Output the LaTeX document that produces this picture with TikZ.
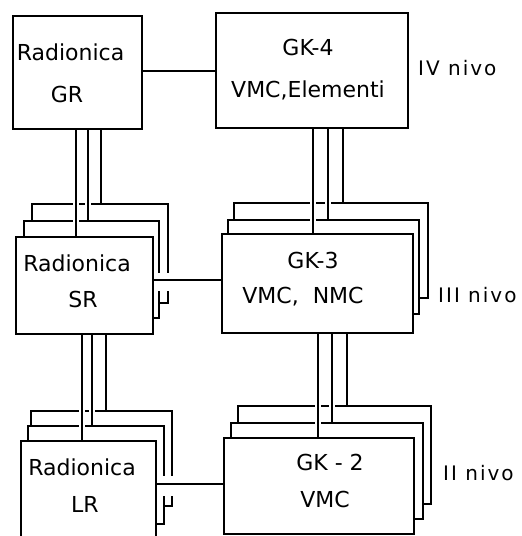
\documentclass[tikz,border=0pt]{standalone}
\usepackage{fontspec}
\setmainfont{DejaVu Sans}
\begin{document}
\begin{tikzpicture}[x=1pt,y=-1pt,
  box/.style={draw,line width=1.6pt,fill=white,rectangle,inner sep=0pt,anchor=north west},
  ln/.style={line width=1.6pt},
  thru/.style={line width=1.6pt,preaction={draw=white,line width=6pt,shorten <=1.8pt,shorten >=1.8pt}},
  txt/.style={font=\fontsize{22}{26}\selectfont,inner sep=0pt,anchor=base},
  lvl/.style={font=\fontsize{20}{24}\selectfont\addfontfeature{LetterSpace=10},inner sep=0pt,anchor=base west}]
\useasboundingbox (0,0) rectangle (522,536);
\clip (0,0) rectangle (522,536);
% level IV
\node[box,minimum width=129pt,minimum height=113pt] (GR) at (12,15) {};
\node[box,minimum width=192pt,minimum height=115pt] (GK4) at (215,12) {};
% level III
\node[box,minimum width=136pt,minimum height=99pt] (SRb2) at (31,203) {};
\node[box,minimum width=135pt,minimum height=97pt] (SRb1) at (23,220) {};
\node[box,minimum width=137pt,minimum height=97pt] (SRf) at (15,236) {};
\node[box,minimum width=194pt,minimum height=95pt] (GK3b2) at (233,202) {};
\node[box,minimum width=191pt,minimum height=94pt] (GK3b1) at (227,219) {};
\node[box,minimum width=191pt,minimum height=99pt] (GK3f) at (221,233) {};
% level II
\node[box,minimum width=141pt,minimum height=95pt] (LRb2) at (30,410) {};
\node[box,minimum width=136pt,minimum height=98pt] (LRb1) at (27,425) {};
\node[box,minimum width=135pt,minimum height=110pt] (LRf) at (20,440) {};
\node[box,minimum width=193pt,minimum height=98pt] (GK2b2) at (237,405) {};
\node[box,minimum width=192pt,minimum height=96pt] (GK2b1) at (230,422) {};
\node[box,minimum width=190pt,minimum height=96pt] (GK2f) at (223,437) {};
% texts
\node[txt] (t1) at (70.5,60) {Radionica};
\node[txt] (t2) at (67,102) {GR};
\node[txt] (t3) at (308,55) {GK-4};
\node[txt] (t4) at (308,97) {VMC,Elementi};
\node[txt] (t5) at (77,271) {Radionica};
\node[txt] (t6) at (83,307) {SR};
\node[txt] (t7) at (313,268) {GK-3};
\node[txt] (t8) at (303,303) {VMC,\ \ NMC};
\node[txt] (t9) at (82,475) {Radionica};
\node[txt] (t10) at (85,512) {LR};
\node[txt] (t11) at (330,470) {GK - 2};
\node[txt] (t12) at (325,507) {VMC};
\node[lvl] (l4) at (418,75) {IV nivo};
\node[lvl] (l3) at (438,302) {III nivo};
\node[lvl] (l2) at (443,480) {II nivo};
% horizontal connectors
\coordinate (c1) at ([yshift=1.5pt]GR.east);
\draw[ln] (c1) -- (c1 -| GK4.west);
\coordinate (c2) at ([yshift=5.5pt]SRf.east);
\fill[white] ([shift={(1.8,-7)}]c2) rectangle ([shift={(17,11)}]c2);
\draw[ln] (c2) -- (c2 -| GK3f.west);
\coordinate (c3) at ([yshift=12pt]LRf.east);
\fill[white] ([shift={(1.8,-8)}]c3) rectangle ([shift={(18,12)}]c3);
\draw[ln] (c3) -- (c3 -| GK2f.west);
% vertical bundles GR -> SR
\coordinate (a1) at ([xshift=64pt]GR.south west);
\coordinate (a2) at ([xshift=76pt]GR.south west);
\coordinate (a3) at ([xshift=89pt]GR.south west);
\draw[thru] (a1) -- (a1 |- SRf.north);
\draw[thru] (a2) -- (a2 |- SRb1.north);
\draw[thru] (a3) -- (a3 |- SRb2.north);
% SR -> LR
\coordinate (b1) at ([xshift=67pt]SRf.south west);
\coordinate (b2) at ([xshift=77pt]SRf.south west);
\coordinate (b3) at ([xshift=91pt]SRf.south west);
\draw[thru] (b1) -- (b1 |- LRf.north);
\draw[thru] (b2) -- (b2 |- LRb1.north);
\draw[thru] (b3) -- (b3 |- LRb2.north);
% GK4 -> GK3
\coordinate (d1) at ([xshift=98pt]GK4.south west);
\coordinate (d2) at ([xshift=113pt]GK4.south west);
\coordinate (d3) at ([xshift=128pt]GK4.south west);
\draw[thru] (d1) -- (d1 |- GK3f.north);
\draw[thru] (d2) -- (d2 |- GK3b1.north);
\draw[thru] (d3) -- (d3 |- GK3b2.north);
% GK3 -> GK2
\coordinate (e1) at ([xshift=97pt]GK3f.south west);
\coordinate (e2) at ([xshift=111pt]GK3f.south west);
\coordinate (e3) at ([xshift=126pt]GK3f.south west);
\draw[thru] (e1) -- (e1 |- GK2f.north);
\draw[thru] (e2) -- (e2 |- GK2b1.north);
\draw[thru] (e3) -- (e3 |- GK2b2.north);
\end{tikzpicture}
\end{document}
